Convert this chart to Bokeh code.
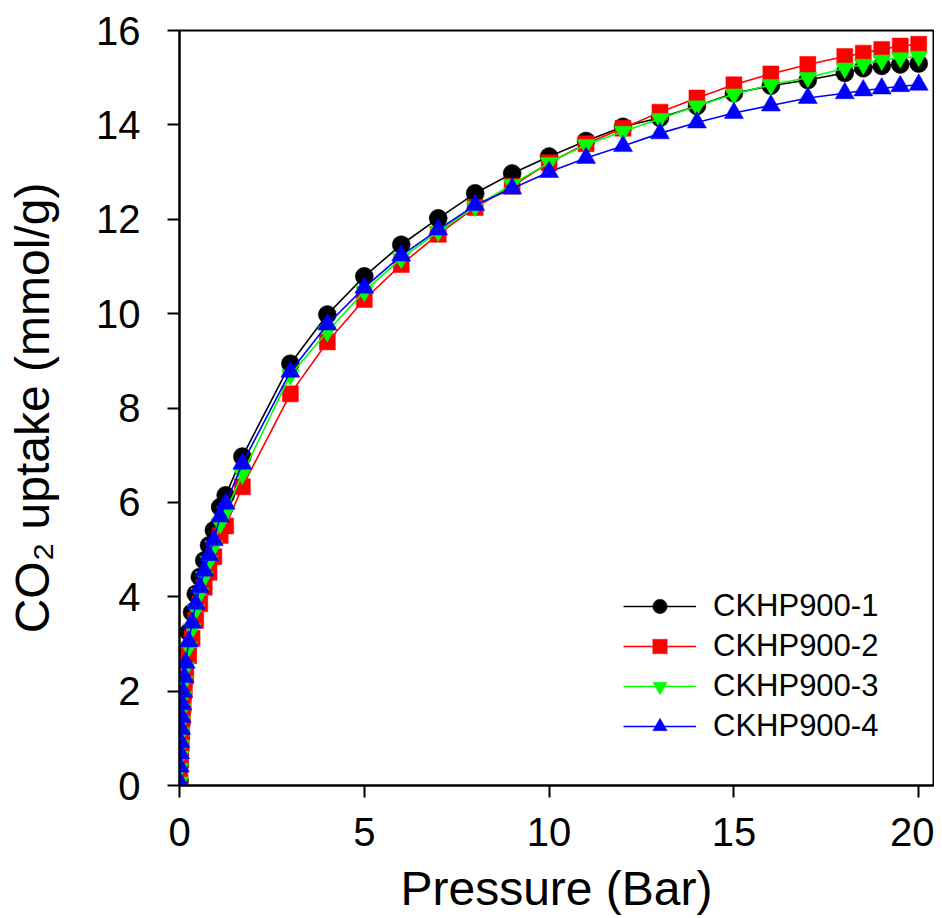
from bokeh.plotting import figure
from bokeh.models import Range1d, Legend, LegendItem, FixedTicker
from bokeh.embed import file_html
from bokeh.resources import INLINE

# Pressure grid (Bar)
pressure = [0.002, 0.01, 0.02, 0.03, 0.045, 0.06, 0.08, 0.1, 0.13, 0.17,
            0.25, 0.34, 0.44, 0.55, 0.67, 0.8, 0.93, 1.1, 1.25, 1.7,
            3, 4, 5, 6, 7, 8, 9, 10, 11, 12, 13, 14, 15, 16, 17, 18,
            18.5, 19, 19.5, 20]

ckhp1 = [0.1, 0.45, 0.75, 1.0, 1.3, 1.55, 1.85, 2.1, 2.45, 2.75,
         3.25, 3.67, 4.06, 4.42, 4.77, 5.09, 5.41, 5.9, 6.15, 6.97,
         8.94, 9.98, 10.79, 11.46, 12.02, 12.55, 12.97, 13.33, 13.66, 13.96,
         14.15, 14.4, 14.67, 14.83, 14.95, 15.1, 15.2, 15.25, 15.28, 15.3]

ckhp2 = [0.05, 0.3, 0.55, 0.76, 1.0, 1.22, 1.47, 1.72, 2.03, 2.32,
         2.75, 3.12, 3.5, 3.85, 4.2, 4.52, 4.85, 5.3, 5.5, 6.33,
         8.3, 9.4, 10.3, 11.04, 11.68, 12.25, 12.7, 13.2, 13.6, 13.93,
         14.27, 14.57, 14.85, 15.08, 15.28, 15.45, 15.52, 15.6, 15.67, 15.71]

ckhp3 = [0.07, 0.36, 0.62, 0.85, 1.12, 1.36, 1.62, 1.88, 2.2, 2.5,
         2.93, 3.32, 3.72, 4.07, 4.42, 4.75, 5.07, 5.55, 5.8, 6.6,
         8.7, 9.62, 10.47, 11.17, 11.74, 12.27, 12.74, 13.2, 13.58, 13.86,
         14.13, 14.4, 14.65, 14.85, 15.0, 15.2, 15.28, 15.37, 15.42, 15.45]

ckhp4 = [0.08, 0.4, 0.68, 0.92, 1.2, 1.45, 1.72, 1.98, 2.3, 2.6,
         3.05, 3.45, 3.85, 4.2, 4.55, 4.88, 5.2, 5.7, 5.97, 6.82,
         8.77, 9.77, 10.55, 11.23, 11.78, 12.3, 12.65, 13.0, 13.3, 13.55,
         13.82, 14.05, 14.25, 14.41, 14.57, 14.67, 14.73, 14.77, 14.82, 14.85]

labels = ["CKHP900-1", "CKHP900-2", "CKHP900-3", "CKHP900-4"]
x_ticks = [0, 5, 10, 15, 20]
y_ticks = [0, 2, 4, 6, 8, 10, 12, 14, 16]

FONT = "Liberation Sans"

p = figure(frame_width=754, frame_height=755,
           x_range=Range1d(0, 20.4), y_range=Range1d(0, 16),
           output_backend="svg", toolbar_location=None,
           min_border_left=179, min_border_top=30, min_border_right=1,
           min_border_bottom=125, background_fill_color="white",
           border_fill_color="white")

p.grid.visible = False
p.outline_line_color = "black"
p.outline_line_width = 2

p.xaxis.ticker = FixedTicker(ticks=x_ticks, minor_ticks=[])
p.yaxis.ticker = FixedTicker(ticks=y_ticks, minor_ticks=[])
for ax in (p.xaxis, p.yaxis):
    ax.axis_line_width = 2
    ax.axis_line_color = "black"
    ax.major_tick_line_width = 2
    ax.major_tick_line_color = "black"
    ax.major_tick_out = 12
    ax.major_tick_in = 0
    ax.minor_tick_out = 0
    ax.minor_tick_in = 0
    ax.major_label_text_font = FONT
    ax.major_label_text_font_size = "40px"
    ax.major_label_text_color = "black"
    ax.axis_label_text_font = FONT
    ax.axis_label_text_font_size = "48px"
    ax.axis_label_text_font_style = "normal"
    ax.axis_label_text_color = "black"

p.xaxis.major_label_standoff = 20
p.yaxis.major_label_standoff = 27
p.xaxis.axis_label = "Pressure (Bar)"
p.yaxis.axis_label = "CO\u2082 uptake (mmol/g)"
p.xaxis.axis_label_standoff = 13
p.yaxis.axis_label_standoff = 34

series = [
    (ckhp1, "#000000", "circle", 18),
    (ckhp2, "#FF0000", "square", 16),
    (ckhp3, "#00FF00", "inverted_triangle", 18),
    (ckhp4, "#0000FF", "triangle", 19),
]

items = []
for (vals, color, marker, size), lab in zip(series, labels):
    ln = p.line(pressure, vals, line_color=color, line_width=1.6)
    sc = p.scatter(pressure, vals, marker=marker, size=size,
                   fill_color=color, line_color=color, line_width=0.5)
    items.append(LegendItem(label=lab, renderers=[ln, sc]))

legend = Legend(items=items, location=(444, 41), padding=0, margin=0,
                spacing=4, glyph_width=73, glyph_height=36, label_height=36,
                label_standoff=17, label_text_font=FONT,
                label_text_font_size="31px", label_text_color="black",
                border_line_color=None, background_fill_alpha=0)
p.add_layout(legend, "center")

open("out.html", "w").write(file_html(p, INLINE))
